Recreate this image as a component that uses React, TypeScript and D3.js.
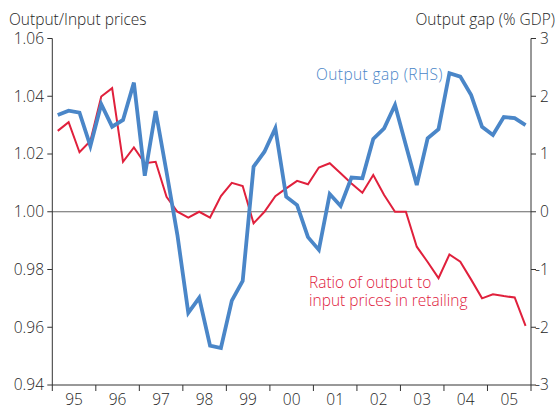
import React from "react";
import * as d3 from "d3";

const years = ["95", "96", "97", "98", "99", "00", "01", "02", "03", "04", "05"];
const leftTicks = [0.94, 0.96, 0.98, 1.0, 1.02, 1.04, 1.06];
const rightTicks = [-3, -2, -1, 0, 1, 2, 3];

// Quarterly data 1995Q1 - 2005Q4
const ratio = [
  1.028, 1.031, 1.0206, 1.0245, 1.0399, 1.0428, 1.0173, 1.0223,
  1.0168, 1.0173, 1.0052, 1.0, 0.998, 1.0, 0.998, 1.0054,
  1.01, 1.0089, 0.996, 1.0, 1.0054, 1.0081, 1.0107, 1.0095,
  1.0153, 1.0168, 1.0133, 1.0098, 1.0066, 1.0127, 1.0058, 1.0,
  1.0, 0.9879, 0.9826, 0.977, 0.9852, 0.9827, 0.9765, 0.97,
  0.9714, 0.9708, 0.9703, 0.9605,
];
const gap = [
  1.676, 1.75, 1.716, 1.139, 1.861, 1.473, 1.589, 2.236,
  0.624, 1.745, 0.688, -0.404, -1.75, -1.49, -2.32, -2.36,
  -1.54, -1.196, 0.78, 1.04, 1.445, 0.26, 0.116, -0.44,
  -0.66, 0.307, 0.1, 0.593, 0.579, 1.26, 1.445, 1.85,
  1.15, 0.463, 1.27, 1.43, 2.4, 2.34, 2.02, 1.47,
  1.33, 1.64, 1.62, 1.5,
];

const W = 557;
const H = 409;
const left = 52.3;
const right = 531;
const top = 38.5;
const bottom = 385;
const font = "'Open Sans', 'Noto Sans', sans-serif";
const textColor = "#262626";
const blue = "#4a86c8";
const red = "#e0203c";
const fs = 15.5;

export default function App() {
  const x = d3.scaleLinear().domain([0, years.length]).range([left, right]);
  const yL = d3.scaleLinear().domain([0.94, 1.06]).range([bottom, top]);
  const yR = d3.scaleLinear().domain([-3, 3]).range([bottom, top]);
  const qx = (i: number) => x((i + 0.5) / 4);

  const ratioLine = d3
    .line<number>()
    .x((_, i) => qx(i))
    .y((d) => yL(d))(ratio);
  const gapLine = d3
    .line<number>()
    .x((_, i) => qx(i))
    .y((d) => yR(d))(gap);

  return (
    <div style={{ position: "absolute", left: 0, top: 0 }}>
      <svg width={W} height={H} style={{ display: "block", background: "#fff" }} fontFamily={font} fontWeight={300}>
        {/* zero line */}
        <line x1={left} x2={right} y1={yL(1.0)} y2={yL(1.0)} stroke="#666" strokeWidth={1} />
        {/* axes */}
        <line x1={left} x2={left} y1={top} y2={bottom} stroke="#333" strokeWidth={1} />
        <line x1={right} x2={right} y1={top} y2={bottom} stroke="#333" strokeWidth={1} />
        <line x1={left} x2={right} y1={bottom} y2={bottom} stroke="#333" strokeWidth={1} />
        {leftTicks.map((t) => (
          <g key={"l" + t}>
            <line x1={left - 5} x2={left} y1={yL(t)} y2={yL(t)} stroke="#333" />
            <text x={44} y={yL(t)} dy="0.35em" textAnchor="end" fontSize={fs} fill={textColor}>
              {d3.format(".2f")(t)}
            </text>
          </g>
        ))}
        {rightTicks.map((t) => (
          <g key={"r" + t}>
            <line x1={right} x2={right + 5} y1={yR(t)} y2={yR(t)} stroke="#333" />
            <text x={t < 0 ? 535 : 540} y={yR(t)} dy="0.35em" textAnchor="start" fontSize={fs} fill={textColor}>
              {t}
            </text>
          </g>
        ))}
        {d3.range(years.length + 1).map((i) => (
          <line key={"xt" + i} x1={x(i)} x2={x(i)} y1={bottom} y2={bottom + 6} stroke="#333" />
        ))}
        {years.map((y, i) => (
          <text key={"xl" + y} x={x(i + 0.5)} y={405} textAnchor="middle" fontSize={fs} fill={textColor}>
            {y}
          </text>
        ))}
        {/* series */}
        <path d={ratioLine ?? ""} fill="none" stroke={red} strokeWidth={2} strokeLinejoin="miter" />
        <path d={gapLine ?? ""} fill="none" stroke={blue} strokeWidth={3.8} strokeLinejoin="miter" />
        {/* titles */}
        <text x={9} y={25} fontSize={fs} fill={textColor}>
          Output/Input prices
        </text>
        <text x={555} y={25} fontSize={fs} fill={textColor} textAnchor="end">
          Output gap (% GDP)
        </text>
        <text x={316} y={80} fontSize={fs} fill={blue} letterSpacing={0.4}>
          Output gap (RHS)
        </text>
        <text x={309} y={287.5} fontSize={15.5} fill={red}>
          Ratio of output to
        </text>
        <text x={309} y={306} fontSize={15.5} fill={red}>
          input prices in retailing
        </text>
      </svg>
    </div>
  );
}
